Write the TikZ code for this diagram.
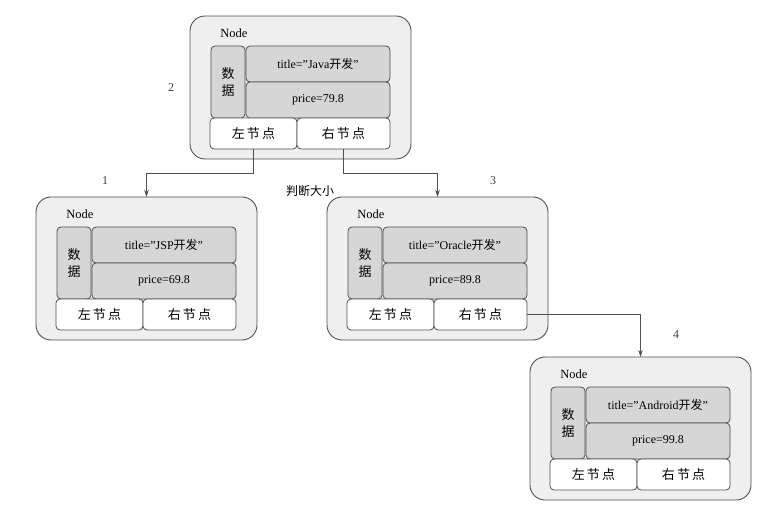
\documentclass[tikz,border=0pt]{standalone}
\usepackage{fontspec}
\setmainfont{Liberation Serif}
\newfontfamily\cjk{Noto Sans CJK SC}
\usetikzlibrary{arrows.meta}

\definecolor{lineC}{HTML}{505050}
\definecolor{outerC}{HTML}{EFEFEF}
\definecolor{dataC}{HTML}{D6D6D6}
\definecolor{numC}{HTML}{404040}

\tikzset{
  outerbox/.style={draw=lineC, fill=outerC, rounded corners=15pt, line width=0.9pt,
    minimum width=221pt, minimum height=143pt, anchor=north west, inner sep=0pt, outer sep=0pt},
  databox/.style={draw=lineC, fill=dataC, rounded corners=4pt, line width=0.8pt,
    inner sep=0pt, outer sep=0pt, anchor=north west, align=center, font=\fontsize{12}{14}\selectfont},
  cjkdata/.style={font=\fontsize{13}{17}\selectfont\cjk},
  ptrbox/.style={draw=lineC, fill=white, rounded corners=4pt, line width=0.8pt,
    inner sep=0pt, outer sep=0pt, anchor=north west, font=\fontsize{13}{15}\selectfont\cjk},
  nodelabel/.style={inner sep=0pt, font=\fontsize{12.5}{14}\selectfont},
  numlabel/.style={inner sep=0pt, text=numC, font=\fontsize{12}{14}\selectfont},
  conn/.style={draw=lineC, line width=0.8pt, -{Stealth[length=7pt,width=4.5pt]}}
}

\newcommand\bnode[5]{%
  \node[outerbox] (#1-box) at (#2,#3) {};
  \node[nodelabel] (#1-lbl) at (#2+44,#3+17) {Node};
  \node[databox, cjkdata, minimum width=34pt, minimum height=72pt] (#1-data) at (#2+21,#3+30)
    {数\\据};
  \node[databox, minimum width=144pt, minimum height=36pt] (#1-title) at (#2+56,#3+30) {#4};
  \node[databox, minimum width=144pt, minimum height=36pt] (#1-price) at (#2+56,#3+66) {#5};
  \node[ptrbox, minimum width=87pt, minimum height=31pt] (#1-left) at (#2+20,#3+102) {左\,节\,点};
  \node[ptrbox, minimum width=93pt, minimum height=31pt] (#1-right) at (#2+107,#3+102) {右\,节\,点};
}

\begin{document}
\begin{tikzpicture}[x=1pt,y=-1pt]
  \useasboundingbox (0,0) rectangle (784,513);

  \bnode{j}{190}{16}{title="Java{\cjk 开发}"}{price=79.8}
  \bnode{l}{36}{197}{title="JSP{\cjk 开发}"}{price=69.8}
  \bnode{m}{327}{197}{title="Oracle{\cjk 开发}"}{price=89.8}
  \bnode{r}{530}{357}{title="Android{\cjk 开发}"}{price=99.8}

  \draw[conn] (j-left.south) -- ++(0,24) -| (l-box.north);
  \draw[conn] (j-right.south) -- ++(0,24) -| (m-box.north);
  \draw[conn] (m-right.east) -| (r-box.north);

  \node[numlabel] (n2) at (171,88) {2};
  \node[numlabel] (n1) at (105,181) {1};
  \node[numlabel] (n3) at (493,181) {3};
  \node[numlabel] (n4) at (676,335) {4};
  \node[inner sep=0pt, font=\fontsize{12}{14}\selectfont\cjk] (cmp) at (310,191) {判断大小};
\end{tikzpicture}
\end{document}
